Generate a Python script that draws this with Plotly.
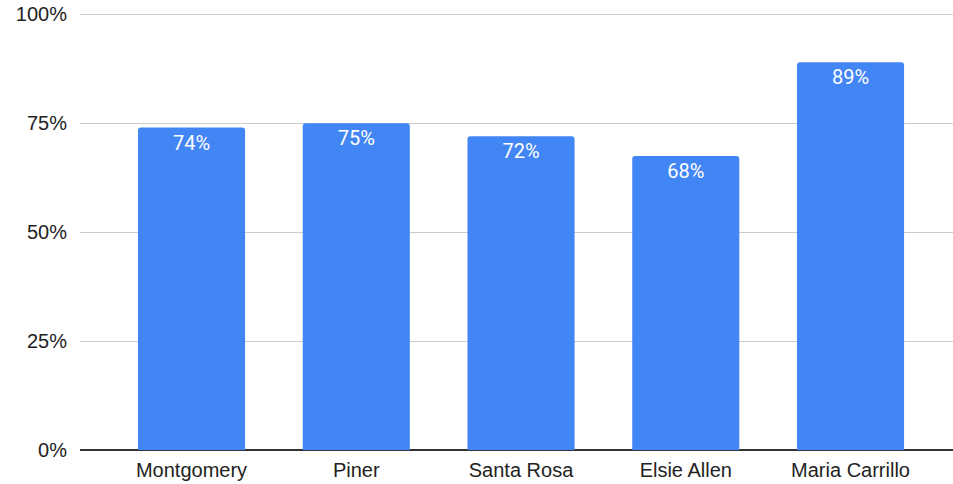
import plotly.graph_objects as go

schools = ["Montgomery", "Piner", "Santa Rosa", "Elsie Allen", "Maria Carrillo"]
rates = [0.74, 0.75, 0.72, 0.675, 0.89]
labels = ["74%", "75%", "72%", "68%", "89%"]
tick_vals = [0, 0.25, 0.5, 0.75, 1.0]
tick_text = ["0%", "25%", "50%", "75%", "100%"]

fig = go.Figure(go.Bar(
    x=schools, y=rates, text=labels, textposition="inside",
    insidetextanchor="end", textangle=0,
    textfont=dict(family="Roboto", size=20, color="white"),
    marker=dict(color="#4285f4", line=dict(width=0), cornerradius=3),
    width=0.65, hoverinfo="skip",
))

fig.update_layout(
    width=953, height=484,
    margin=dict(l=80, r=0, t=13, b=34),
    paper_bgcolor="white", plot_bgcolor="white",
    showlegend=False,
    font=dict(family="Liberation Sans, Arial", size=20, color="#222"),
)
fig.update_xaxes(range=[-0.677, 4.622], showgrid=False, ticks="", showline=False,
                 ticklabelstandoff=6,
                 tickfont=dict(size=20, color="#222"))
fig.update_yaxes(range=[0, 1.003], tickvals=tick_vals, ticktext=tick_text,
                 showgrid=True, gridcolor="#cccccc", gridwidth=1,
                 zeroline=True, zerolinecolor="#333333", zerolinewidth=1.5,
                 ticks="", ticklabelstandoff=12, showline=False,
                 tickfont=dict(size=20, color="#222"))

fig.write_html("out.html",
               config={"displayModeBar": False, "staticPlot": True},
               post_script="document.body.style.margin='0';document.body.style.overflow='hidden';")
